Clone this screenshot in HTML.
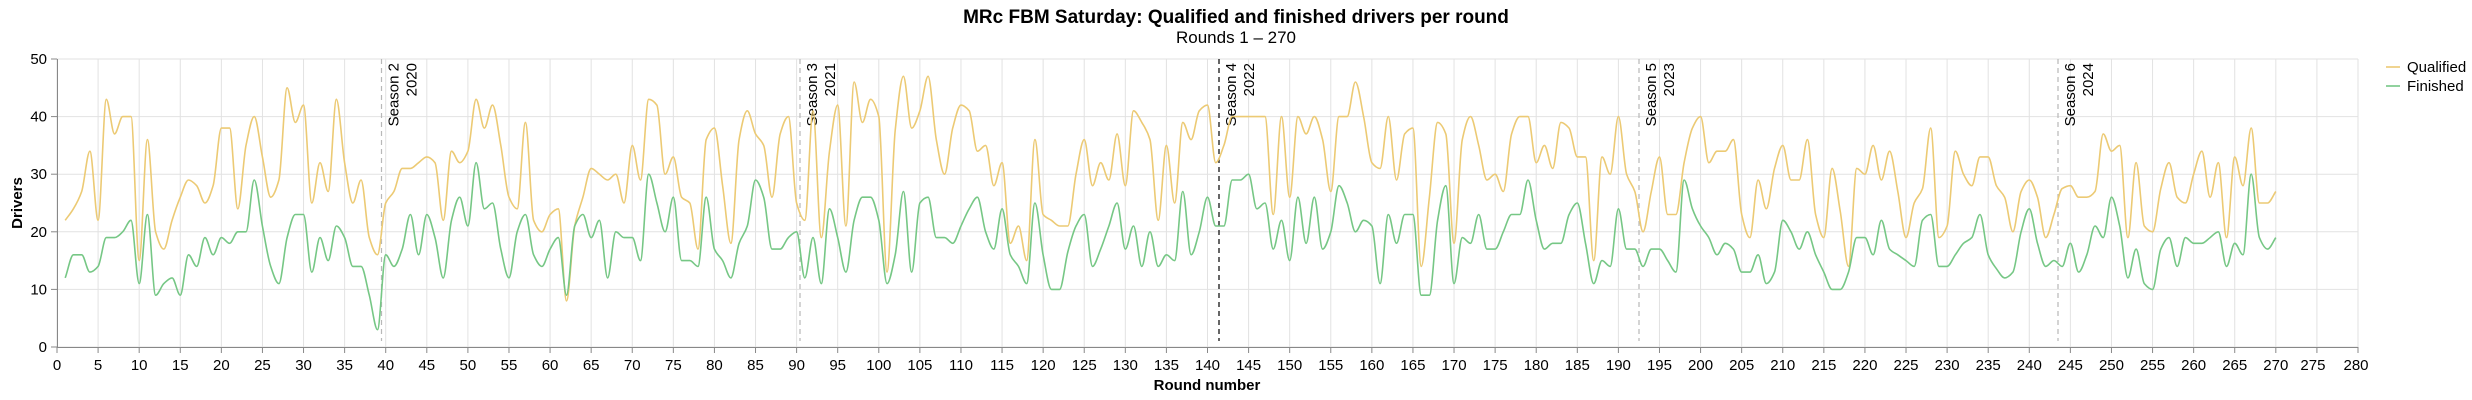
<!DOCTYPE html>
<html><head><meta charset="utf-8"><style>
html,body{margin:0;padding:0;background:#fff;}
svg{display:block;font-family:"Liberation Sans",Arial,sans-serif;}
</style></head><body>
<svg id="c" width="2472" height="400" viewBox="0 0 2472 400" xmlns="http://www.w3.org/2000/svg">
<rect width="2472" height="400" fill="#fff"/>
<text x="1236" y="23" text-anchor="middle" font-size="19" font-weight="bold" fill="#000">MRc FBM Saturday: Qualified and finished drivers per round</text>
<text x="1236" y="43" text-anchor="middle" font-size="17" fill="#000">Rounds 1 – 270</text>
<g id="grid"></g>
<g id="season"></g>
<path id="pq" fill="none" stroke="#ecca74" stroke-width="1.6"/>
<path id="pf" fill="none" stroke="#76c785" stroke-width="1.6"/>
<g id="axes"></g>
<text transform="translate(22,203) rotate(-90)" text-anchor="middle" font-size="15" font-weight="bold">Drivers</text>
<text x="1207" y="390" text-anchor="middle" font-size="15" font-weight="bold">Round number</text>
<line x1="2386" y1="67" x2="2400" y2="67" stroke="#ecca74" stroke-width="1.6"/>
<text x="2407" y="72" font-size="15">Qualified</text>
<line x1="2386" y1="86" x2="2400" y2="86" stroke="#76c785" stroke-width="1.6"/>
<text x="2407" y="91" font-size="15">Finished</text>
</svg>
<script>
var Q=[22,24,27,34,22,43,37,40,40,15,36,20,17,22,26,29,28,25,28,38,38,24,35,40,33,26,29,45,39,42,25,32,27,43,32,25,29,19,16,25,27,31,31,32,33,32,22,34,32,34,43,38,42,35,26,24,39,22,20,23,24,8,21,26,31,30,29,30,25,35,29,43,42,30,33,26,25,17,36,38,28,18,36,41,37,35,26,37,40,25,22,41,19,34,42,21,46,39,43,40,13,37.6,47,38,41,47,36,30,38,42,41,34,35,28,32,18,21,15,36,23,22,21,21,30,36,28,32,29,37,28,41,39,36,22,35,25,39,36,41,42,32,35,40,40,40,40,40,23,40,26,40,37,40,36,27,40,40,46,40,32,31,40,29,37,38,14,26,39,37,18,36,40,35,29,30,27,37,40,40,32,35,31,39,38,33,33,15,33,30,40,30,27,20,27,33,23,23,32,38,40,32,34,34,36,23,19,29,24,31,35,29,29,36,23,19,31,23.5,14,31,30,35,29,34,27,19,25,27.5,38,19,21,34,30,28,33,33,28,26,20,27,29,26,19,23,27.5,28,26,26,27,37,34,35,19,32,21,20,27.5,32,26,25,30,34,26,32,19,33,28,38,25,25,27];
var F=[12,16,16,13,14,19,19,20,22,11,23,9,11,12,9,16,14,19,16,19,18,20,20,29,21,14,11,19,23,23,13,19,15,21,19,14,14,9,3,16,14,17,23,16,23,19,12,22,26,21,32,24,25,17,12,20,23,16,14,17,19,9,21,23,19,22,12,20,19,19,15,30,25,20,26,15,15,14,26,17,15,12,18,21,29,26,17,17,19,20,12,19,11,24,19,13,22,26,26,22,11,16,27,13,25,26,19,19,18,21,24,26,20,17,24,16,14,11,25,16,10,10,16.5,21,23,14,17,21,25,17,21,14,20,14,16,15,27,16,20,26,21,21,29,29,30,24,25,17,22,15,26,18,26,17,20,28,25,20,22,21,11,23,18,23,23,9,9,22,28,11,19,18,23,17,17,20,23,23,29,22,17,18,18,23,25,18,11,15,14,24,17,17,14,17,17,15,13,29,24,21,19,16,18,17,13,13,16,11,13,22,20,17,20,16,13,10,10,13,19,19,16,22,17,16,15,14,22,23,14,14,16,18,19,23,16,13.6,12,13,20,24,18,14,15,14,18,13,16,21,19,26,21,12,17,11,10,17,19,14,19,18,18,19,20,14,18,16,30,19,17,19];
var X0=57,X1=2358,Y0=347,Y1=59,sx=(X1-X0)/280,sy=(Y0-Y1)/50;
function X(r){return X0+r*sx}function Y(v){return Y0-v*sy}
var NS="http://www.w3.org/2000/svg";
function el(p,t,a,txt){var e=document.createElementNS(NS,t);for(var k in a)e.setAttribute(k,a[k]);if(txt!=null)e.textContent=txt;p.appendChild(e);return e;}
var g=document.getElementById('grid'),ax=document.getElementById('axes'),se=document.getElementById('season');
for(var r=0;r<=280;r+=5){el(g,'line',{x1:X(r),x2:X(r),y1:Y1,y2:Y0,stroke:'#e2e2e2','stroke-width':1});
 el(ax,'line',{x1:X(r),x2:X(r),y1:Y0,y2:Y0+6,stroke:'#888','stroke-width':1});
 var xx=X(r); if(r==275)xx-=4; if(r==280)xx-=2;
 el(ax,'text',{x:xx,y:Y0+23,'text-anchor':'middle','font-size':15,fill:'#000'},String(r));}
for(var v=0;v<=50;v+=10){el(g,'line',{x1:X0,x2:X1,y1:Y(v),y2:Y(v),stroke:'#e2e2e2','stroke-width':1});
 el(ax,'line',{x1:X0-6,x2:X0,y1:Y(v),y2:Y(v),stroke:'#888','stroke-width':1});
 el(ax,'text',{x:X0-10,y:Y(v)+5,'text-anchor':'end','font-size':15,fill:'#000'},String(v));}
el(ax,'line',{x1:X0,x2:X1,y1:Y0+0.5,y2:Y0+0.5,stroke:'#888','stroke-width':1});
el(ax,'line',{x1:X0+0.5,x2:X0+0.5,y1:Y1,y2:Y0,stroke:'#888','stroke-width':1});
var seas=[[381.5,'Season 2','2020','#b8b8b8'],[800,'Season 3','2021','#b8b8b8'],[1219,'Season 4','2022','#000'],[1639,'Season 5','2023','#b8b8b8'],[2058,'Season 6','2024','#b8b8b8']];
seas.forEach(function(s){el(se,'line',{x1:s[0],x2:s[0],y1:Y1,y2:341,stroke:s[3],'stroke-width':1.2,'stroke-dasharray':'5,4'});
 el(se,'text',{transform:'translate('+(s[0]+17)+',63) rotate(-90)','text-anchor':'end','font-size':15,fill:'#000'},s[1]);
 el(se,'text',{transform:'translate('+(s[0]+35)+',63) rotate(-90)','text-anchor':'end','font-size':15,fill:'#000'},s[2]);});
function mono(ys){var n=ys.length,xs=[],yv=[];for(var i=0;i<n;i++){xs.push(X(i+1));yv.push(Y(ys[i]));}
 var d=[],m=[];for(i=0;i<n-1;i++)d.push((yv[i+1]-yv[i])/(xs[i+1]-xs[i]));
 m[0]=d[0];m[n-1]=d[n-2];for(i=1;i<n-1;i++){if(d[i-1]*d[i]<=0)m[i]=0;else{m[i]=3*(d[i-1]+d[i])/(2/1)/3; var a=d[i-1],b=d[i];m[i]=2/(1/a+1/b);}}
 var p='M'+xs[0].toFixed(1)+','+yv[0].toFixed(1);
 for(i=0;i<n-1;i++){var h=(xs[i+1]-xs[i])/3;p+='C'+(xs[i]+h).toFixed(1)+','+(yv[i]+m[i]*h).toFixed(1)+' '+(xs[i+1]-h).toFixed(1)+','+(yv[i+1]-m[i+1]*h).toFixed(1)+' '+xs[i+1].toFixed(1)+','+yv[i+1].toFixed(1);}
 return p;}
document.getElementById('pq').setAttribute('d',mono(Q));
document.getElementById('pf').setAttribute('d',mono(F));
</script>
</body></html>
